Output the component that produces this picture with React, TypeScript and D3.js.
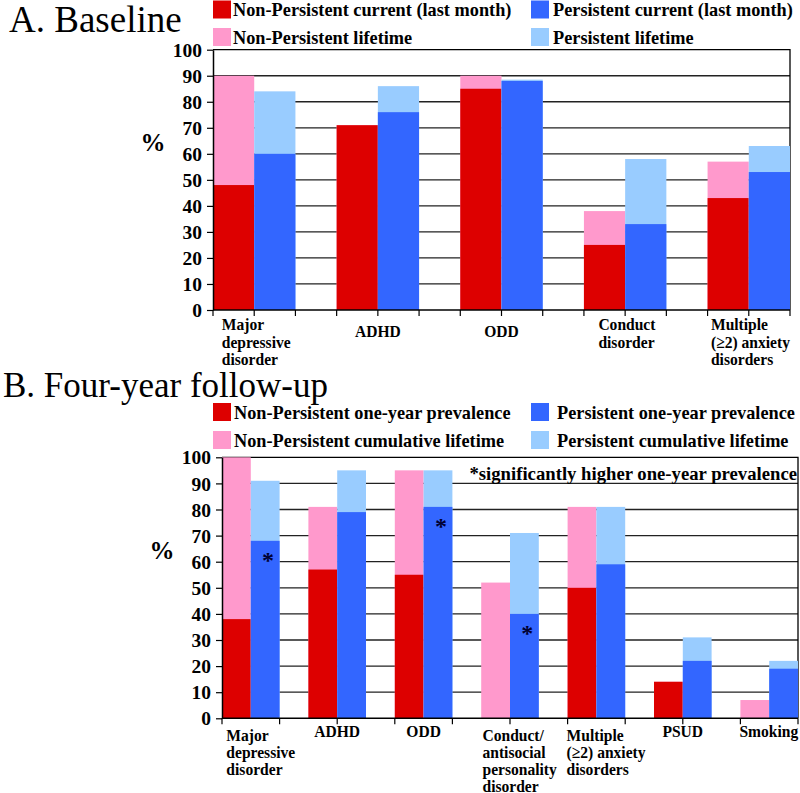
import { useEffect, useRef } from "react";
import * as d3 from "d3";

const FONT = "'Liberation Serif', 'Times New Roman', Times, serif";
const RED = "#dd0000";
const BLUE = "#3366ff";
const PINK = "#ff99cc";
const LBLUE = "#99ccff";

const yTicks = [0, 10, 20, 30, 40, 50, 60, 70, 80, 90, 100];

// Panel A - baseline
const catsA = [
    ["Major", "depressive", "disorder"],
    ["ADHD"],
    ["ODD"],
    ["Conduct", "disorder"],
    ["Multiple", "(≥2) anxiety", "disorders"],
];
const nonCurA = [48, 71, 85, 25, 43];
const nonLifeA = [90, 71, 90, 38, 57];
const perCurA = [60, 76, 88, 33, 53];
const perLifeA = [84, 86, 88.5, 58, 63];
const legendA = [
    "Non-Persistent current (last month)",
    "Persistent current (last month)",
    "Non-Persistent lifetime",
    "Persistent lifetime",
];

// Panel B - four-year follow-up
const catsB = [
    ["Major", "depressive", "disorder"],
    ["ADHD"],
    ["ODD"],
    ["Conduct/", "antisocial", "personality", "disorder"],
    ["Multiple", "(≥2) anxiety", "disorders"],
    ["PSUD"],
    ["Smoking"],
];
const nonYearB = [38, 57, 55, 0, 50, 14, 0];
const nonLifeB = [100, 81, 95, 52, 81, 14, 7];
const perYearB = [68, 79, 81, 40, 59, 22, 19];
const perLifeB = [91, 95, 95, 71, 81, 31, 22];
const sigB = [true, false, true, true, false, false, false];
const legendB = [
    "Non-Persistent one-year prevalence",
    "Persistent one-year prevalence",
    "Non-Persistent cumulative lifetime",
    "Persistent cumulative lifetime",
];

const drawPanel = (svg: any, p: any) => {
    const x = d3.scaleBand<string>()
        .domain(p.cats.map((_: any, i: number) => String(i)))
        .range([p.left, p.right])
        .paddingInner(1 / 3)
        .paddingOuter(0);
    const y = d3.scaleLinear().domain([0, 100]).range([p.bottom, p.top]);
    const bw = x.bandwidth() / 2;
    const g = svg.append("g");

    // gridlines
    g.selectAll("line.grid")
        .data(yTicks.filter(t => t > 0 && t < 100))
        .join("line")
        .attr("x1", p.left).attr("x2", p.right)
        .attr("y1", (d: number) => y(d)).attr("y2", (d: number) => y(d))
        .attr("stroke", "#222").attr("stroke-width", 1.3);

    // frame top / right
    g.append("path")
        .attr("d", `M${p.left},${y(100)}H${p.right}V${p.bottom}`)
        .attr("fill", "none").attr("stroke", "#000").attr("stroke-width", 1.3);

    // bars: lifetime behind, current in front
    const layers = [
        { vals: p.nonLife, color: PINK, off: 0 },
        { vals: p.nonCur, color: RED, off: 0 },
        { vals: p.perLife, color: LBLUE, off: 1 },
        { vals: p.perCur, color: BLUE, off: 1 },
    ];
    layers.forEach(l => {
        g.append("g").selectAll("rect")
            .data(l.vals)
            .join("rect")
            .attr("x", (_: number, i: number) => (x(String(i)) as number) + l.off * bw)
            .attr("y", (d: number) => y(d))
            .attr("width", bw)
            .attr("height", (d: number) => y(0) - y(d))
            .attr("fill", l.color);
    });

    // y axis
    const ya = g.append("g")
        .attr("transform", `translate(${p.left},0)`)
        .call(d3.axisLeft(y).tickValues(yTicks).tickSize(6).tickSizeOuter(0).tickPadding(5).tickFormat(d3.format("d")));
    ya.select(".domain").attr("stroke", "#000").attr("stroke-width", 1.5);
    ya.selectAll(".tick line").attr("stroke", "#000").attr("stroke-width", 1.2);
    ya.selectAll("text")
        .attr("font-family", FONT).attr("font-size", 19.5).attr("font-weight", "bold")
        .attr("fill", "#000").attr("dy", "0.34em");

    // x axis line, ticks every bar width (or two)
    g.append("line")
        .attr("x1", p.left).attr("x2", p.right)
        .attr("y1", p.bottom).attr("y2", p.bottom)
        .attr("stroke", "#000").attr("stroke-width", 1.5);
    const unit = bw * p.tickEvery;
    const nTicks = Math.round((p.right - p.left) / unit);
    g.selectAll("line.xt")
        .data(d3.range(nTicks + 1))
        .join("line")
        .attr("x1", (i: number) => p.left + i * unit).attr("x2", (i: number) => p.left + i * unit)
        .attr("y1", p.bottom).attr("y2", p.bottom + 6)
        .attr("stroke", "#000").attr("stroke-width", 1.2);

    // "%" label
    g.append("text")
        .attr("x", p.pctX).attr("y", p.pctY)
        .attr("text-anchor", "middle")
        .attr("font-family", FONT).attr("font-size", 25).attr("font-weight", "bold")
        .text("%");

    // category labels
    p.cats.forEach((lines: string[], i: number) => {
        const cg = g.append("g");
        lines.forEach((s, j) => {
            cg.append("text")
                .attr("transform", `translate(0,${j * p.lineH}) scale(0.89,1)`)
                .attr("font-family", FONT).attr("font-size", 17.5).attr("font-weight", "bold")
                .text(s);
        });
        const w = (cg.node() as SVGGElement).getBBox().width;
        const cx = (x(String(i)) as number) + x.bandwidth() / 2;
        const lx = cx - w / 2 + (lines.length > 1 ? p.multiOff : 0);
        const ly = p.labelY + (lines.length > 1 ? 0 : p.singleDy);
        cg.attr("transform", `translate(${lx},${ly})`);
    });

    return { x, y, bw, g };
};

const drawLegend = (svg: any, items: string[], l: any) => {
    const g = svg.append("g");
    const colors = [RED, BLUE, PINK, LBLUE];
    items.forEach((s, i) => {
        const col = i % 2;
        const row = Math.floor(i / 2);
        g.append("rect")
            .attr("x", l.sqX[col]).attr("y", l.rowY[row])
            .attr("width", 18).attr("height", 18)
            .attr("fill", colors[i]);
        g.append("text")
            .attr("x", l.txtX[col]).attr("y", l.rowY[row] + 15.5)
            .attr("font-family", FONT).attr("font-size", 18.3).attr("font-weight", "bold")
            .text(s);
    });
};

const App = () => {
    const svgRef = useRef<SVGSVGElement>(null);

    useEffect(() => {
        const svg = d3.select(svgRef.current);
        svg.selectAll("*").remove();

        // titles
        svg.append("text").attr("x", 9).attr("y", 32)
            .attr("font-family", FONT).attr("font-size", 37).text("A. Baseline");
        svg.append("text").attr("x", 3).attr("y", 397)
            .attr("font-family", FONT).attr("font-size", 35).text("B. Four-year follow-up");

        drawLegend(svg, legendA, { sqX: [213, 531], txtX: [233, 553], rowY: [0.5, 28] });
        drawLegend(svg, legendB, { sqX: [213, 531], txtX: [234, 557], rowY: [403, 431] });

        drawPanel(svg, {
            left: 213, right: 790, top: 49.7, bottom: 310,
            cats: catsA, nonCur: nonCurA, nonLife: nonLifeA, perCur: perCurA, perLife: perLifeA,
            tickEvery: 1, pctX: 153, pctY: 151,
            labelY: 330, lineH: 17.5, singleDy: 7, multiOff: 2,
        });

        const b = drawPanel(svg, {
            left: 222, right: 798, top: 457.3, bottom: 718.3,
            cats: catsB, nonCur: nonYearB, nonLife: nonLifeB, perCur: perYearB, perLife: perLifeB,
            tickEvery: 2, pctX: 162, pctY: 559,
            labelY: 741, lineH: 17, singleDy: -4, multiOff: 10,
        });

        // significance markers
        b.g.selectAll("text.sig")
            .data(perYearB.map((v, i) => ({ v, i })).filter(d => sigB[d.i]))
            .join("text")
            .attr("x", (d: any) => (b.x(String(d.i)) as number) + b.bw * 1.6)
            .attr("y", (d: any) => b.y(d.v) + 27)
            .attr("text-anchor", "middle")
            .attr("font-family", FONT).attr("font-size", 24).attr("font-weight", "bold")
            .attr("fill", "#000033")
            .text("*");

        b.g.append("text")
            .attr("x", 797).attr("y", 480)
            .attr("text-anchor", "end")
            .attr("font-family", FONT).attr("font-size", 18.7).attr("font-weight", "bold")
            .text("*significantly higher one-year prevalence");
    }, []);

    return (
        <svg ref={svgRef} width={800} height={793}
            style={{ position: "absolute", left: 0, top: 0, display: "block", background: "#fff" }} />
    );
};

export default App;
